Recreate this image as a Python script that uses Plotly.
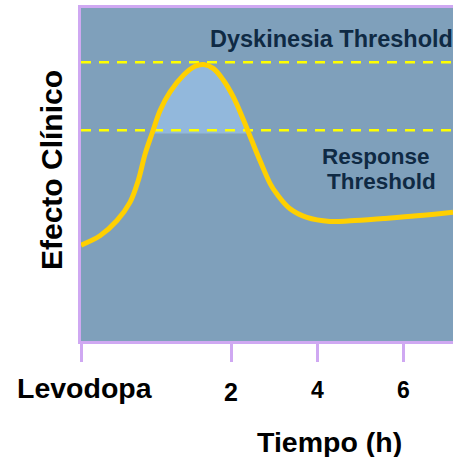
import numpy as np
import plotly.graph_objects as go

# ---- data ----
time_h = [-1.49, -1.05, -0.66, -0.35, -0.16, 0.0, 0.16, 0.35, 0.58, 0.89, 1.16, 1.36,
          1.59, 1.82, 2.05, 2.29, 2.48, 2.67, 2.91, 3.06, 3.37, 3.76, 4.30, 4.77,
          5.54, 6.32, 7.16]
effect = [28.8, 31.6, 36.1, 41.7, 48.2, 56.2, 62.3, 69.3, 74.8, 79.8, 82.5, 83.0,
          81.8, 78.3, 73.3, 66.3, 60.2, 54.2, 47.2, 44.2, 39.7, 37.1, 35.9, 36.1,
          36.8, 37.6, 38.7]
dyskinesia_threshold = 83.7
response_threshold = 63.3
fill_level = 62.3
tick_vals = [-1.49, 2, 4, 6]
tick_labels = ["Levodopa", "2", "4", "6"]
x_range = [-1.492, 7.16]
y_range = [0, 100]

FONT = "Liberation Sans, Arial, sans-serif"
LAV = "#cfa8f2"
BG = "#7fa0bb"
NAVY = "#0f2a44"

# polygon of curve above fill level
t = np.array(time_h)
e = np.array(effect)
above = e >= fill_level
idx = np.where(above)[0]
i0, i1 = idx[0], idx[-1]
xl = np.interp(fill_level, [e[i0 - 1], e[i0]], [t[i0 - 1], t[i0]])
xr = np.interp(fill_level, [e[i1 + 1], e[i1]], [t[i1 + 1], t[i1]])
poly_x = [xl] + list(t[i0:i1 + 1]) + [xr]
poly_y = [fill_level] + list(e[i0:i1 + 1]) + [fill_level]

fig = go.Figure()
fig.add_trace(go.Scatter(x=poly_x, y=poly_y, mode="lines", fill="toself",
                         fillcolor="#92b8dc", line=dict(width=0, shape="spline"),
                         hoverinfo="skip", showlegend=False))
for thr in [dyskinesia_threshold, response_threshold]:
    fig.add_trace(go.Scatter(x=x_range, y=[thr, thr], mode="lines",
                             line=dict(color="#ffff00", width=2.5, dash="10px,8px"),
                             hoverinfo="skip", showlegend=False))
fig.add_trace(go.Scatter(x=time_h, y=effect, mode="lines",
                         line=dict(color="#ffd000", width=5, shape="spline", smoothing=1),
                         showlegend=False))

ann = []
label_px = [(4, -0.1411, 28.5), (0, -0.1532, 25), (0, -0.1471, 23), (0, -0.1471, 23)]
for v, lab, (xs, yp, fs) in zip(tick_vals, tick_labels, label_px):
    ann.append(dict(x=v, y=yp, xref="x", yref="paper", text=lab, showarrow=False,
                    xshift=xs, xanchor="center", yanchor="middle",
                    font=dict(family=FONT, size=fs, color="black", weight="bold")))
ann.append(dict(x=0.669, y=-0.302, xref="paper", yref="paper", text="Tiempo (h)",
                xanchor="center", yanchor="middle", showarrow=False,
                font=dict(family=FONT, size=28.5, color="black", weight="bold")))
ann.append(dict(x=-0.0793, y=0.512, xref="paper", yref="paper", text="Efecto Clínico",
                textangle=-90, xanchor="center", yanchor="middle", showarrow=False,
                font=dict(family=FONT, size=30, color="black", weight="bold")))
ann.append(dict(x=0.3414, y=0.908, xref="paper", yref="paper", text="Dyskinesia Threshold",
                xanchor="left", yanchor="middle", showarrow=False,
                font=dict(family=FONT, size=23.5, color=NAVY, weight="bold")))
ann.append(dict(x=0.793, y=0.5526, xref="paper", yref="paper", text="Response",
                xanchor="center", yanchor="middle", showarrow=False,
                font=dict(family=FONT, size=22.5, color=NAVY, weight="bold")))
ann.append(dict(x=0.809, y=0.4775, xref="paper", yref="paper", text="Threshold",
                xanchor="center", yanchor="middle", showarrow=False,
                font=dict(family=FONT, size=22.5, color=NAVY, weight="bold")))

fig.update_layout(
    width=453, height=457, autosize=False,
    margin=dict(l=81, r=0, t=8, b=116),
    paper_bgcolor="white", plot_bgcolor=BG,
    annotations=ann,
    xaxis=dict(range=x_range, tickvals=tick_vals, showticklabels=False,
               ticks="outside", ticklen=18, tickwidth=3, tickcolor=LAV,
               showline=True, linecolor=LAV, linewidth=3, mirror=True,
               showgrid=False, zeroline=False, fixedrange=True),
    yaxis=dict(range=y_range, showticklabels=False, ticks="",
               showline=True, linecolor=LAV, linewidth=3, mirror=False,
               showgrid=False, zeroline=False, fixedrange=True),
)
fig.write_html("out.html", config={"responsive": False, "displayModeBar": False},
               default_width="453px", default_height="457px",
               post_script="document.body.style.margin='0';document.body.style.overflow='hidden';")
